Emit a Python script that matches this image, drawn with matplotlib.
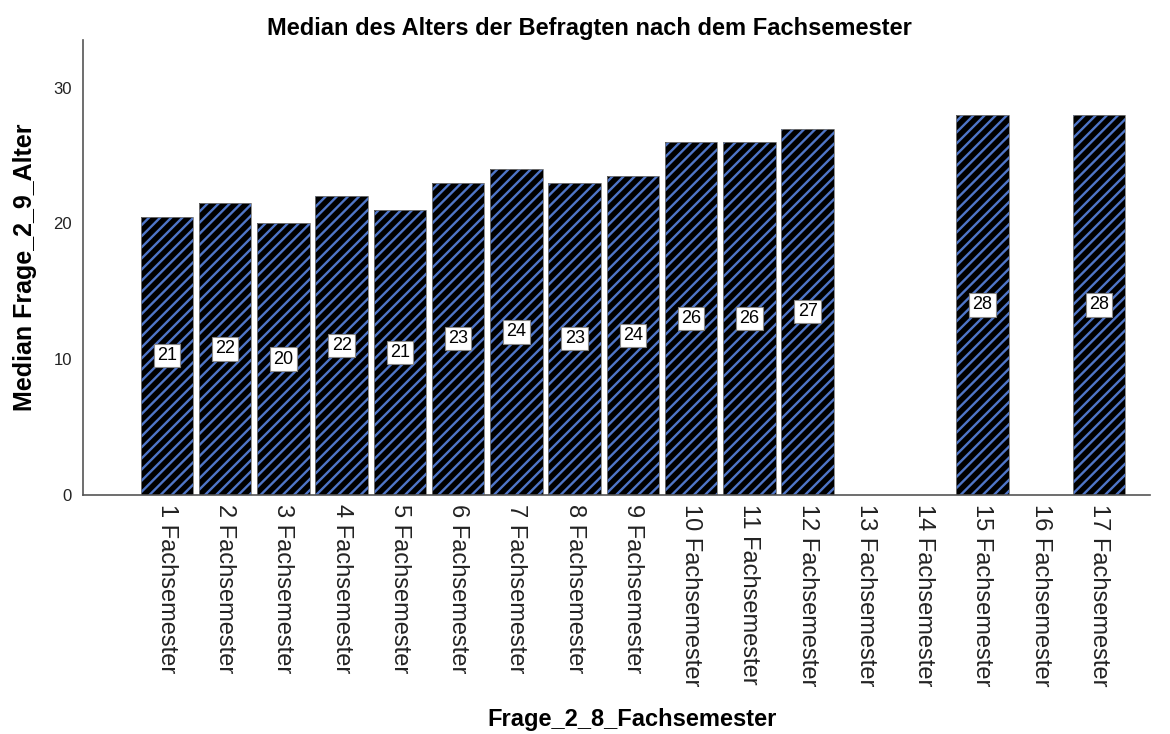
import numpy as np
import matplotlib.pyplot as plt

# Median age by study semester
semester = ["1 Fachsemester", "2 Fachsemester", "3 Fachsemester", "4 Fachsemester",
            "5 Fachsemester", "6 Fachsemester", "7 Fachsemester", "8 Fachsemester",
            "9 Fachsemester", "10 Fachsemester", "11 Fachsemester", "12 Fachsemester",
            "13 Fachsemester", "14 Fachsemester", "15 Fachsemester", "16 Fachsemester",
            "17 Fachsemester"]
median_age = [20.5, 21.5, 20.0, 22.0, 21.0, 23.0, 24.0, 23.0, 23.5, 26.0, 26.0, 27.0,
              np.nan, np.nan, 28.0, np.nan, 28.0]

plt.rcParams['font.family'] = ['Liberation Sans', 'DejaVu Sans']
plt.rcParams['hatch.linewidth'] = 1.7

fig = plt.figure(figsize=(11.7, 7.34), dpi=100)
ax = fig.add_axes([0.071, 0.326, 0.912, 0.619])

x = np.arange(len(semester))
vals = np.array(median_age, dtype=float)
shown = ~np.isnan(vals)

ax.bar(x[shown], vals[shown], width=0.9, color='black', edgecolor='#4f76c8',
       hatch='///', linewidth=0)
ax.bar(x[shown], vals[shown], width=0.9, fill=False, edgecolor='#7a7a7a', linewidth=0.6)

for xi, v in zip(x[shown], vals[shown]):
    ax.text(xi, v / 2, "{:d}".format(int(np.floor(v + 0.5))), ha='center', va='center',
            fontsize=13, color='black',
            bbox=dict(boxstyle='square,pad=0.18', fc='white', ec='#888888', lw=0.8))

ax.set_xlim(-1.44, 16.88)
ax.set_ylim(0, 33.5)
ax.set_yticks([0, 10, 20, 30])
ax.set_xticks(x)
ax.set_xticklabels(semester, rotation=270, fontsize=17, color='#222222')
ax.tick_params(axis='x', length=0, pad=7)
ax.tick_params(axis='y', length=0, pad=8, labelsize=12, labelcolor='#222222')

for s in ['top', 'right']:
    ax.spines[s].set_visible(False)
for s in ['left', 'bottom']:
    ax.spines[s].set_color('#555555')
    ax.spines[s].set_linewidth(1.2)

ax.set_title("Median des Alters der Befragten nach dem Fachsemester",
             fontsize=17, fontweight='bold', pad=4, x=0.475)
ax.set_ylabel("Median Frage_2_9_Alter", fontsize=18, fontweight='bold', labelpad=12)
fig.text(0.540, 0.004, "Frage_2_8_Fachsemester", ha='center', va='bottom',
         fontsize=17, fontweight='bold')

fig.savefig("out.png", dpi=100)
